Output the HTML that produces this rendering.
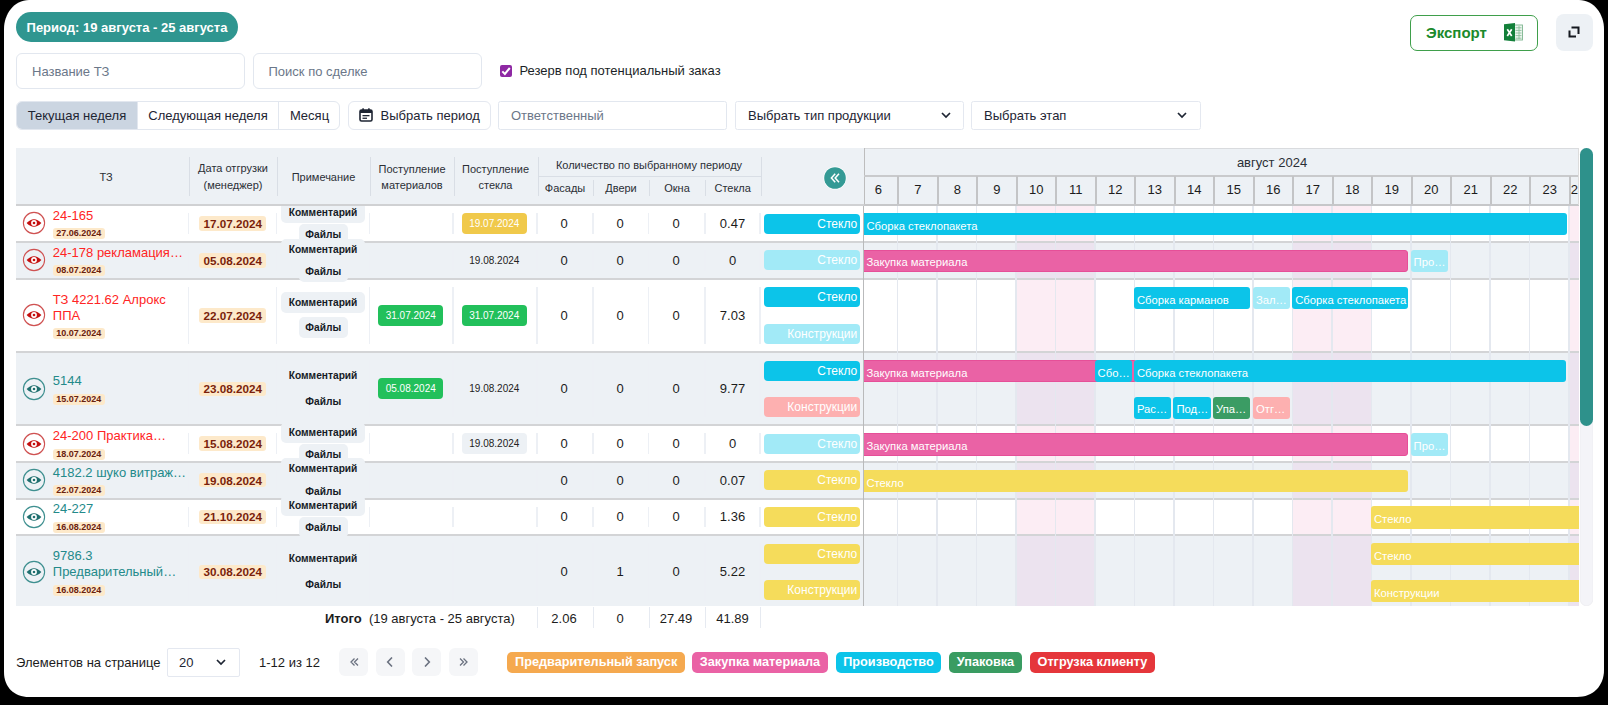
<!DOCTYPE html><html><head><meta charset="utf-8"><title>Gantt</title><style>
*{box-sizing:border-box;margin:0;padding:0}
html,body{width:1608px;height:705px;overflow:hidden;background:#000;font-family:"Liberation Sans",sans-serif;color:#1f2937}
#frame{position:absolute;left:0;top:0;width:1608px;height:705px}
.ab{position:absolute}
.c{display:flex;align-items:center;justify-content:center;white-space:nowrap}
.l{display:flex;align-items:center;white-space:nowrap}
.pill{left:16px;top:12px;width:222px;height:30px;border-radius:15px;background:#2f9690;color:#fff;font-weight:bold;font-size:13px}
.inp{border:1px solid #e2e7ef;border-radius:6px;background:#fff;font-size:13px;color:#6b7789;padding-left:15px}
.sel{border:1px solid #e4e8f0;border-radius:2.5px;background:#fff;font-size:13px;color:#1e2533;padding-left:12px}
.hdr{background:#edf1f5}
.ht{font-size:11px;color:#2b2f36;text-align:center;line-height:17px;white-space:nowrap}
.vd{width:1px;background:#d9dee5}
.rowbg{left:16px;width:1563px}
.rb{left:16px;width:1563px;height:2px;background:#d3d4d6}
.title{font-size:13px;line-height:15.5px;white-space:nowrap}
.sbadge{background:#fde9ca;color:#6a200e;font-weight:bold;font-size:9px;border-radius:3px;height:11px;line-height:11px;padding:0 3.5px}
.dbadge{background:#fde9ca;color:#7a1f0c;font-weight:bold;font-size:11.7px;border-radius:3px;height:14.4px;width:66.6px}
.btn{background:#edf1f5;color:#161b26;font-weight:bold;font-size:10.2px;border-radius:5px;height:21px}
.gbadge{background:#22c05b;color:#fff;font-size:10px;border-radius:4px;height:21px;width:65px}
.num{font-size:13px;color:#1c1c1c}
.lab{height:20px;width:96px;border-radius:4px;color:#fff;font-size:12px;justify-content:flex-end;padding-right:2.8px}
.bar{height:22.4px;border-radius:3px;color:#fff;font-size:11.25px;padding-left:3px;padding-top:3.4px;overflow:hidden}
.vg{width:1.3px;background:#e4e8ef}
.lg{height:21.5px;border-radius:5px;color:#fff;font-weight:bold;font-size:12.7px}
.pg{width:29px;height:29px;border-radius:6px;background:#f5f6f8;color:#8a94a3;font-size:15px}
</style></head><body><svg id="frame" width="1608" height="705" viewBox="0 0 1608 705"><path d="M29 0 H1579 C1594 0 1604 14 1604 29 V670 C1604 686 1593 697 1577 697 H29 C14 697 4 687 4 672 V29 C4 14 14 0 29 0 Z" fill="#fff"/></svg>
<div class="ab c pill">Период: 19 августа - 25 августа</div>
<div class="ab l" style="left:1410px;top:14.6px;width:128px;height:36px;border:1.5px solid #3f9f4b;border-radius:7px;color:#1b8a2c;font-weight:bold;font-size:15px;padding-left:15px">Экспорт</div>
<svg class="ab" style="left:1503px;top:22px" width="21" height="21" viewBox="0 0 21 21">
<rect x="11.5" y="3" width="8" height="15" fill="#eef6f0" stroke="#7db58f" stroke-width="0.9"/>
<g stroke="#8cc09c" stroke-width="0.9"><line x1="12.5" y1="5.8" x2="18.5" y2="5.8"/><line x1="12.5" y1="8.4" x2="18.5" y2="8.4"/><line x1="12.5" y1="11" x2="18.5" y2="11"/><line x1="12.5" y1="13.6" x2="18.5" y2="13.6"/><line x1="12.5" y1="16.2" x2="18.5" y2="16.2"/><line x1="16" y1="4" x2="16" y2="17"/></g>
<path d="M1 2.3 L12 1 V19.6 L1 18.2 Z" fill="#13803a"/>
<path d="M4.3 7.3 L8.7 14 M8.7 7.3 L4.3 14" stroke="#fff" stroke-width="1.7" fill="none"/>
</svg>
<div class="ab" style="left:1556px;top:14px;width:37px;height:37px;background:#edf1f5;border-radius:8px"></div>
<svg class="ab" style="left:1567px;top:25px" width="15" height="15" viewBox="0 0 15 15"><g fill="none" stroke="#15181f" stroke-width="2" stroke-linecap="square"><path d="M5.5 2.5 H11.5 V8"/><path d="M2.5 6.5 V11.5 H8"/></g></svg>
<div class="ab l inp" style="left:16px;top:53px;width:229px;height:36px;">Название ТЗ</div>
<div class="ab l inp" style="left:252.5px;top:53px;width:229px;height:36px;">Поиск по сделке</div>
<svg class="ab" style="left:500px;top:64.8px" width="12" height="12" viewBox="0 0 12 12"><rect x="0" y="0" width="12" height="12" rx="2" fill="#8e28a3"/><path d="M2.3 6.4 L4.9 9 L9.8 3" fill="none" stroke="#fff" stroke-width="2"/></svg>
<div class="ab l" style="left:519.5px;top:61.3px;height:18px;font-size:13px;color:#1b1f27">Резерв под потенциальный заказ</div>
<div class="ab" style="left:16px;top:101px;width:324px;height:28.5px;border:1px solid #e2e7ef;border-radius:6px;overflow:hidden;background:#fff"><div class="ab c" style="left:0;top:0;width:120px;height:100%;background:#cbd5e1;font-size:13px;color:#1e2533">Текущая неделя</div><div class="ab c" style="left:120px;top:0;width:141px;height:100%;border-left:1px solid #e2e7ef;font-size:13px;color:#1e2533">Следующая неделя</div><div class="ab c" style="left:261px;top:0;width:62px;height:100%;border-left:1px solid #e2e7ef;font-size:13px;color:#1e2533">Месяц</div></div>
<div class="ab l sel" style="left:347.5px;top:101px;width:143px;height:28.5px;border-radius:6px;padding-left:32px">Выбрать период</div>
<svg class="ab" style="left:359px;top:108px" width="14" height="14" viewBox="0 0 14 14"><rect x="1" y="2" width="12" height="11" rx="1.5" fill="none" stroke="#1e2533" stroke-width="1.6"/><rect x="1" y="2" width="12" height="3" fill="#1e2533"/><rect x="3.3" y="0.3" width="1.6" height="2.5" fill="#1e2533"/><rect x="9.1" y="0.3" width="1.6" height="2.5" fill="#1e2533"/><rect x="3.5" y="7" width="7" height="1.3" fill="#1e2533"/><rect x="3.5" y="9.6" width="4.5" height="1.3" fill="#1e2533"/></svg>
<div class="ab l inp" style="left:498px;top:101px;width:229px;height:28.5px;border-radius:2.5px;padding-left:12px">Ответственный</div>
<div class="ab l sel" style="left:735px;top:101px;width:228.5px;height:28.5px;">Выбрать тип продукции</div>
<svg class="ab" style="left:940.5px;top:111px" width="10" height="8" viewBox="0 0 10 8"><path d="M1 2 L5 6 L9 2" fill="none" stroke="#1e2533" stroke-width="1.7"/></svg>
<div class="ab l sel" style="left:971px;top:101px;width:229.5px;height:28.5px;">Выбрать этап</div>
<svg class="ab" style="left:1177px;top:111px" width="10" height="8" viewBox="0 0 10 8"><path d="M1 2 L5 6 L9 2" fill="none" stroke="#1e2533" stroke-width="1.7"/></svg>
<div class="ab" style="left:0;top:0;width:0;height:0;z-index:5">
<div class="ab hdr" style="left:16px;top:148px;width:848px;height:57px;"></div>
<div class="ab " style="left:16px;top:204px;width:848px;height:2px;background:#d0d1d3"></div>
<div class="ab ht" style="left:46.0px;top:168.5px;width:120px">ТЗ</div>
<div class="ab ht" style="left:173.0px;top:160.0px;width:120px">Дата отгрузки</div>
<div class="ab ht" style="left:173.0px;top:177.0px;width:120px">(менеджер)</div>
<div class="ab ht" style="left:263.5px;top:168.5px;width:120px">Примечание</div>
<div class="ab ht" style="left:352.0px;top:160.5px;width:120px">Поступление</div>
<div class="ab ht" style="left:352.0px;top:176.5px;width:120px">материалов</div>
<div class="ab ht" style="left:435.5px;top:160.5px;width:120px">Поступление</div>
<div class="ab ht" style="left:435.5px;top:176.5px;width:120px">стекла</div>
<div class="ab ht" style="left:539.0px;top:157.1px;width:220px">Количество по выбранному периоду</div>
<div class="ab ht" style="left:538.0px;top:179.8px;width:54px">Фасады</div>
<div class="ab ht" style="left:594.0px;top:179.8px;width:54px">Двери</div>
<div class="ab ht" style="left:650.0px;top:179.8px;width:54px">Окна</div>
<div class="ab ht" style="left:705.7px;top:179.8px;width:54px">Стекла</div>
<div class="ab vd" style="left:189px;top:156.5px;width:1px;height:39.5px;"></div>
<div class="ab vd" style="left:277px;top:156.5px;width:1px;height:39.5px;"></div>
<div class="ab vd" style="left:370px;top:156.5px;width:1px;height:39.5px;"></div>
<div class="ab vd" style="left:453.7px;top:156.5px;width:1px;height:39.5px;"></div>
<div class="ab vd" style="left:537.5px;top:156.5px;width:1px;height:39.5px;"></div>
<div class="ab vd" style="left:760.6px;top:156.5px;width:1px;height:39.5px;"></div>
<div class="ab vd" style="left:593.4px;top:179.5px;width:1px;height:16.5px;"></div>
<div class="ab vd" style="left:649px;top:179.5px;width:1px;height:16.5px;"></div>
<div class="ab vd" style="left:705.4px;top:179.5px;width:1px;height:16.5px;"></div>
<div class="ab " style="left:537.5px;top:176px;width:223px;height:1px;background:#d9dee5"></div>
<svg class="ab" style="left:822.5px;top:166px" width="24" height="24" viewBox="0 0 24 24"><circle cx="12" cy="12" r="11.5" fill="#fff"/><circle cx="12" cy="12" r="10.8" fill="#349a95"/><path d="M12.2 7.8 L8.4 12 L12.2 16.2 M16 7.8 L12.2 12 L16 16.2" fill="none" stroke="#fff" stroke-width="1.5"/></svg>
<div class="ab hdr" style="left:864px;top:148px;width:714.5999999999999px;height:57px;border-top:1.6px solid #d9dbde"></div>
<div class="ab " style="left:863.5px;top:148px;width:1.2px;height:57px;background:#bdbdbd"></div>
<div class="ab c" style="left:1172px;top:153px;width:200px;height:18px;font-size:13px;color:#2b2f36">август 2024</div>
<div class="ab " style="left:864px;top:175px;width:714.5999999999999px;height:2px;background:#c9cacc"></div>
<div class="ab " style="left:864px;top:204px;width:714.5999999999999px;height:2px;background:#c6c7c9"></div>
<div class="ab" style="left:864px;top:148px;width:714.5999999999999px;height:57px;overflow:hidden">
<div class="ab c" style="left:-5.5px;top:27.5px;width:39.5px;height:28px;font-size:13px;color:#1c1c1c">6</div>
<div class="ab c" style="left:34.0px;top:27.5px;width:39.5px;height:28px;font-size:13px;color:#1c1c1c">7</div>
<div class="ab" style="left:33.0px;top:28px;width:2px;height:28px;background:#c3c4c6"></div>
<div class="ab c" style="left:73.5px;top:27.5px;width:39.5px;height:28px;font-size:13px;color:#1c1c1c">8</div>
<div class="ab" style="left:72.5px;top:28px;width:2px;height:28px;background:#c3c4c6"></div>
<div class="ab c" style="left:113.0px;top:27.5px;width:39.5px;height:28px;font-size:13px;color:#1c1c1c">9</div>
<div class="ab" style="left:112.0px;top:28px;width:2px;height:28px;background:#c3c4c6"></div>
<div class="ab c" style="left:152.5px;top:27.5px;width:39.5px;height:28px;font-size:13px;color:#1c1c1c">10</div>
<div class="ab" style="left:151.5px;top:28px;width:2px;height:28px;background:#c3c4c6"></div>
<div class="ab c" style="left:192.0px;top:27.5px;width:39.5px;height:28px;font-size:13px;color:#1c1c1c">11</div>
<div class="ab" style="left:191.0px;top:28px;width:2px;height:28px;background:#c3c4c6"></div>
<div class="ab c" style="left:231.5px;top:27.5px;width:39.5px;height:28px;font-size:13px;color:#1c1c1c">12</div>
<div class="ab" style="left:230.5px;top:28px;width:2px;height:28px;background:#c3c4c6"></div>
<div class="ab c" style="left:271.0px;top:27.5px;width:39.5px;height:28px;font-size:13px;color:#1c1c1c">13</div>
<div class="ab" style="left:270.0px;top:28px;width:2px;height:28px;background:#c3c4c6"></div>
<div class="ab c" style="left:310.5px;top:27.5px;width:39.5px;height:28px;font-size:13px;color:#1c1c1c">14</div>
<div class="ab" style="left:309.5px;top:28px;width:2px;height:28px;background:#c3c4c6"></div>
<div class="ab c" style="left:350.0px;top:27.5px;width:39.5px;height:28px;font-size:13px;color:#1c1c1c">15</div>
<div class="ab" style="left:349.0px;top:28px;width:2px;height:28px;background:#c3c4c6"></div>
<div class="ab c" style="left:389.5px;top:27.5px;width:39.5px;height:28px;font-size:13px;color:#1c1c1c">16</div>
<div class="ab" style="left:388.5px;top:28px;width:2px;height:28px;background:#c3c4c6"></div>
<div class="ab c" style="left:429.0px;top:27.5px;width:39.5px;height:28px;font-size:13px;color:#1c1c1c">17</div>
<div class="ab" style="left:428.0px;top:28px;width:2px;height:28px;background:#c3c4c6"></div>
<div class="ab c" style="left:468.5px;top:27.5px;width:39.5px;height:28px;font-size:13px;color:#1c1c1c">18</div>
<div class="ab" style="left:467.5px;top:28px;width:2px;height:28px;background:#c3c4c6"></div>
<div class="ab c" style="left:508.0px;top:27.5px;width:39.5px;height:28px;font-size:13px;color:#1c1c1c">19</div>
<div class="ab" style="left:507.0px;top:28px;width:2px;height:28px;background:#c3c4c6"></div>
<div class="ab c" style="left:547.5px;top:27.5px;width:39.5px;height:28px;font-size:13px;color:#1c1c1c">20</div>
<div class="ab" style="left:546.5px;top:28px;width:2px;height:28px;background:#c3c4c6"></div>
<div class="ab c" style="left:587.0px;top:27.5px;width:39.5px;height:28px;font-size:13px;color:#1c1c1c">21</div>
<div class="ab" style="left:586.0px;top:28px;width:2px;height:28px;background:#c3c4c6"></div>
<div class="ab c" style="left:626.5px;top:27.5px;width:39.5px;height:28px;font-size:13px;color:#1c1c1c">22</div>
<div class="ab" style="left:625.5px;top:28px;width:2px;height:28px;background:#c3c4c6"></div>
<div class="ab c" style="left:666.0px;top:27.5px;width:39.5px;height:28px;font-size:13px;color:#1c1c1c">23</div>
<div class="ab" style="left:665.0px;top:28px;width:2px;height:28px;background:#c3c4c6"></div>
<div class="ab" style="left:704.5px;top:28px;width:2px;height:28px;background:#c3c4c6"></div>
<div class="ab l" style="left:706.8px;top:27.5px;width:39.5px;height:28px;font-size:13px;color:#1c1c1c">24</div>
<div class="ab" style="left:713.5999999999999px;top:0;width:1px;height:57px;background:#dcdcdc"></div>
</div>
</div>
<div class="ab " style="left:16px;top:206px;width:1563px;height:34.80000000000001px;background:#ffffff"></div>
<div class="ab " style="left:16px;top:240.8px;width:1563px;height:2px;background:#d3d4d6"></div>
<div class="ab " style="left:16px;top:242.8px;width:1563px;height:35.099999999999966px;background:#edf1f5"></div>
<div class="ab " style="left:16px;top:277.9px;width:1563px;height:2px;background:#d3d4d6"></div>
<div class="ab " style="left:16px;top:279.9px;width:1563px;height:71.15000000000003px;background:#ffffff"></div>
<div class="ab " style="left:16px;top:351.05px;width:1563px;height:2px;background:#d3d4d6"></div>
<div class="ab " style="left:16px;top:353.05px;width:1563px;height:71.30000000000001px;background:#edf1f5"></div>
<div class="ab " style="left:16px;top:424.35px;width:1563px;height:2px;background:#d3d4d6"></div>
<div class="ab " style="left:16px;top:426.35px;width:1563px;height:34.549999999999955px;background:#ffffff"></div>
<div class="ab " style="left:16px;top:460.9px;width:1563px;height:2px;background:#d3d4d6"></div>
<div class="ab " style="left:16px;top:462.9px;width:1563px;height:34.700000000000045px;background:#edf1f5"></div>
<div class="ab " style="left:16px;top:497.6px;width:1563px;height:2px;background:#d3d4d6"></div>
<div class="ab " style="left:16px;top:499.6px;width:1563px;height:34.60000000000002px;background:#ffffff"></div>
<div class="ab " style="left:16px;top:534.2px;width:1563px;height:2px;background:#d3d4d6"></div>
<div class="ab " style="left:16px;top:536.2px;width:1563px;height:69.79999999999995px;background:#edf1f5"></div>
<div class="ab" style="left:864px;top:206px;width:714.5999999999999px;height:400px;overflow:hidden">
<div class="ab" style="left:152.5px;top:0px;width:39.5px;height:34.80000000000001px;background:#fcedf4"></div>
<div class="ab" style="left:192.0px;top:0px;width:39.5px;height:34.80000000000001px;background:#fcedf4"></div>
<div class="ab" style="left:429.0px;top:0px;width:39.5px;height:34.80000000000001px;background:#fcedf4"></div>
<div class="ab" style="left:468.5px;top:0px;width:39.5px;height:34.80000000000001px;background:#fcedf4"></div>
<div class="ab" style="left:705.5px;top:0px;width:39.5px;height:34.80000000000001px;background:#fcedf4"></div>
<div class="ab" style="left:152.5px;top:36.80000000000001px;width:39.5px;height:35.099999999999966px;background:#ece3ef"></div>
<div class="ab" style="left:192.0px;top:36.80000000000001px;width:39.5px;height:35.099999999999966px;background:#ece3ef"></div>
<div class="ab" style="left:429.0px;top:36.80000000000001px;width:39.5px;height:35.099999999999966px;background:#ece3ef"></div>
<div class="ab" style="left:468.5px;top:36.80000000000001px;width:39.5px;height:35.099999999999966px;background:#ece3ef"></div>
<div class="ab" style="left:705.5px;top:36.80000000000001px;width:39.5px;height:35.099999999999966px;background:#ece3ef"></div>
<div class="ab" style="left:152.5px;top:73.89999999999998px;width:39.5px;height:71.15000000000003px;background:#fcedf4"></div>
<div class="ab" style="left:192.0px;top:73.89999999999998px;width:39.5px;height:71.15000000000003px;background:#fcedf4"></div>
<div class="ab" style="left:429.0px;top:73.89999999999998px;width:39.5px;height:71.15000000000003px;background:#fcedf4"></div>
<div class="ab" style="left:468.5px;top:73.89999999999998px;width:39.5px;height:71.15000000000003px;background:#fcedf4"></div>
<div class="ab" style="left:705.5px;top:73.89999999999998px;width:39.5px;height:71.15000000000003px;background:#fcedf4"></div>
<div class="ab" style="left:152.5px;top:147.05px;width:39.5px;height:71.30000000000001px;background:#ece3ef"></div>
<div class="ab" style="left:192.0px;top:147.05px;width:39.5px;height:71.30000000000001px;background:#ece3ef"></div>
<div class="ab" style="left:429.0px;top:147.05px;width:39.5px;height:71.30000000000001px;background:#ece3ef"></div>
<div class="ab" style="left:468.5px;top:147.05px;width:39.5px;height:71.30000000000001px;background:#ece3ef"></div>
<div class="ab" style="left:705.5px;top:147.05px;width:39.5px;height:71.30000000000001px;background:#ece3ef"></div>
<div class="ab" style="left:152.5px;top:220.35000000000002px;width:39.5px;height:34.549999999999955px;background:#fcedf4"></div>
<div class="ab" style="left:192.0px;top:220.35000000000002px;width:39.5px;height:34.549999999999955px;background:#fcedf4"></div>
<div class="ab" style="left:429.0px;top:220.35000000000002px;width:39.5px;height:34.549999999999955px;background:#fcedf4"></div>
<div class="ab" style="left:468.5px;top:220.35000000000002px;width:39.5px;height:34.549999999999955px;background:#fcedf4"></div>
<div class="ab" style="left:705.5px;top:220.35000000000002px;width:39.5px;height:34.549999999999955px;background:#fcedf4"></div>
<div class="ab" style="left:152.5px;top:256.9px;width:39.5px;height:34.700000000000045px;background:#ece3ef"></div>
<div class="ab" style="left:192.0px;top:256.9px;width:39.5px;height:34.700000000000045px;background:#ece3ef"></div>
<div class="ab" style="left:429.0px;top:256.9px;width:39.5px;height:34.700000000000045px;background:#ece3ef"></div>
<div class="ab" style="left:468.5px;top:256.9px;width:39.5px;height:34.700000000000045px;background:#ece3ef"></div>
<div class="ab" style="left:705.5px;top:256.9px;width:39.5px;height:34.700000000000045px;background:#ece3ef"></div>
<div class="ab" style="left:152.5px;top:293.6px;width:39.5px;height:34.60000000000002px;background:#fcedf4"></div>
<div class="ab" style="left:192.0px;top:293.6px;width:39.5px;height:34.60000000000002px;background:#fcedf4"></div>
<div class="ab" style="left:429.0px;top:293.6px;width:39.5px;height:34.60000000000002px;background:#fcedf4"></div>
<div class="ab" style="left:468.5px;top:293.6px;width:39.5px;height:34.60000000000002px;background:#fcedf4"></div>
<div class="ab" style="left:705.5px;top:293.6px;width:39.5px;height:34.60000000000002px;background:#fcedf4"></div>
<div class="ab" style="left:152.5px;top:330.20000000000005px;width:39.5px;height:69.79999999999995px;background:#ece3ef"></div>
<div class="ab" style="left:192.0px;top:330.20000000000005px;width:39.5px;height:69.79999999999995px;background:#ece3ef"></div>
<div class="ab" style="left:429.0px;top:330.20000000000005px;width:39.5px;height:69.79999999999995px;background:#ece3ef"></div>
<div class="ab" style="left:468.5px;top:330.20000000000005px;width:39.5px;height:69.79999999999995px;background:#ece3ef"></div>
<div class="ab" style="left:705.5px;top:330.20000000000005px;width:39.5px;height:69.79999999999995px;background:#ece3ef"></div>
<div class="ab vg" style="left:32.8px;top:0;height:400px"></div>
<div class="ab vg" style="left:72.3px;top:0;height:400px"></div>
<div class="ab vg" style="left:111.8px;top:0;height:400px"></div>
<div class="ab vg" style="left:151.3px;top:0;height:400px"></div>
<div class="ab vg" style="left:190.8px;top:0;height:400px"></div>
<div class="ab vg" style="left:230.3px;top:0;height:400px"></div>
<div class="ab vg" style="left:269.8px;top:0;height:400px"></div>
<div class="ab vg" style="left:309.3px;top:0;height:400px"></div>
<div class="ab vg" style="left:348.8px;top:0;height:400px"></div>
<div class="ab vg" style="left:388.3px;top:0;height:400px"></div>
<div class="ab vg" style="left:427.8px;top:0;height:400px"></div>
<div class="ab vg" style="left:467.3px;top:0;height:400px"></div>
<div class="ab vg" style="left:506.8px;top:0;height:400px"></div>
<div class="ab vg" style="left:546.3px;top:0;height:400px"></div>
<div class="ab vg" style="left:585.8px;top:0;height:400px"></div>
<div class="ab vg" style="left:625.3px;top:0;height:400px"></div>
<div class="ab vg" style="left:664.8px;top:0;height:400px"></div>
<div class="ab vg" style="left:704.3px;top:0;height:400px"></div>
<div class="ab vg" style="left:743.8px;top:0;height:400px"></div>
</div>
<div class="ab " style="left:863px;top:206px;width:1.2px;height:400px;background:#b9babb"></div>
<div class="ab" style="left:187.7px;top:213.0px;width:1.6px;height:20.80000000000001px;background:#edf0f5"></div>
<div class="ab" style="left:275.7px;top:213.0px;width:1.6px;height:20.80000000000001px;background:#edf0f5"></div>
<div class="ab" style="left:368.7px;top:213.0px;width:1.6px;height:20.80000000000001px;background:#edf0f5"></div>
<div class="ab" style="left:452.4px;top:213.0px;width:1.6px;height:20.80000000000001px;background:#edf0f5"></div>
<div class="ab" style="left:536.2px;top:213.0px;width:1.6px;height:20.80000000000001px;background:#edf0f5"></div>
<div class="ab" style="left:592.1px;top:213.0px;width:1.6px;height:20.80000000000001px;background:#edf0f5"></div>
<div class="ab" style="left:647.7px;top:213.0px;width:1.6px;height:20.80000000000001px;background:#edf0f5"></div>
<div class="ab" style="left:704.1px;top:213.0px;width:1.6px;height:20.80000000000001px;background:#edf0f5"></div>
<div class="ab" style="left:759.3000000000001px;top:213.0px;width:1.6px;height:20.80000000000001px;background:#edf0f5"></div>
<svg class="ab" style="left:22.200000000000003px;top:211.4px" width="24" height="24" viewBox="0 0 24 24"><circle cx="12" cy="12" r="10.6" fill="none" stroke="#cf5252" stroke-width="1.1"/><path d="M4.6 12 Q12 4.4 19.4 12 Q12 19.6 4.6 12 Z" fill="#c40f0f"/><circle cx="12" cy="12" r="2.9" fill="#fff"/><circle cx="12" cy="12" r="1.3" fill="#c40f0f"/></svg>
<div class="ab title" style="left:52.8px;top:207.8px;height:16px;line-height:16px;color:#ff2424">24-165</div>
<div class="ab sbadge" style="left:52.8px;top:228.3px">27.06.2024</div>
<div class="ab c dbadge" style="left:199.4px;top:216.20000000000002px">17.07.2024</div>
<div class="ab c btn" style="left:281.2px;top:201.55px;width:83.8px">Комментарий</div>
<div class="ab c btn" style="left:298.7px;top:223.75px;width:49.1px">Файлы</div>
<div class="ab c gbadge" style="left:461.90000000000003px;top:212.8px;background:#f0c94b;width:64.7px">19.07.2024</div>
<div class="ab c num" style="left:539px;top:214.4px;width:50px;height:18px">0</div>
<div class="ab c num" style="left:595px;top:214.4px;width:50px;height:18px">0</div>
<div class="ab c num" style="left:651px;top:214.4px;width:50px;height:18px">0</div>
<div class="ab c num" style="left:707.5px;top:214.4px;width:50px;height:18px">0.47</div>
<div class="ab l lab" style="left:764px;top:213.5px;background:#0cc4e9">Стекло</div>
<div class="ab" style="left:863.8px;top:140px;width:714.8px;height:466px;overflow:hidden">
<div class="ab l bar" style="left:-13.8px;top:72.8px;width:716.5px;background:#0cc4e9;padding-left:16.400000000000002px;border-radius:0 3px 3px 0;">Сборка стеклопакета</div>
</div>
<div class="ab" style="left:187.7px;top:249.80000000000004px;width:1.6px;height:21.099999999999966px;background:#edf0f5"></div>
<div class="ab" style="left:275.7px;top:249.80000000000004px;width:1.6px;height:21.099999999999966px;background:#edf0f5"></div>
<div class="ab" style="left:368.7px;top:249.80000000000004px;width:1.6px;height:21.099999999999966px;background:#edf0f5"></div>
<div class="ab" style="left:452.4px;top:249.80000000000004px;width:1.6px;height:21.099999999999966px;background:#edf0f5"></div>
<div class="ab" style="left:536.2px;top:249.80000000000004px;width:1.6px;height:21.099999999999966px;background:#edf0f5"></div>
<div class="ab" style="left:592.1px;top:249.80000000000004px;width:1.6px;height:21.099999999999966px;background:#edf0f5"></div>
<div class="ab" style="left:647.7px;top:249.80000000000004px;width:1.6px;height:21.099999999999966px;background:#edf0f5"></div>
<div class="ab" style="left:704.1px;top:249.80000000000004px;width:1.6px;height:21.099999999999966px;background:#edf0f5"></div>
<div class="ab" style="left:759.3000000000001px;top:249.80000000000004px;width:1.6px;height:21.099999999999966px;background:#edf0f5"></div>
<svg class="ab" style="left:22.200000000000003px;top:248.35000000000002px" width="24" height="24" viewBox="0 0 24 24"><circle cx="12" cy="12" r="10.6" fill="none" stroke="#cf5252" stroke-width="1.1"/><path d="M4.6 12 Q12 4.4 19.4 12 Q12 19.6 4.6 12 Z" fill="#c40f0f"/><circle cx="12" cy="12" r="2.9" fill="#fff"/><circle cx="12" cy="12" r="1.3" fill="#c40f0f"/></svg>
<div class="ab title" style="left:52.8px;top:244.75000000000003px;height:16px;line-height:16px;color:#ff2424">24-178 рекламация…</div>
<div class="ab sbadge" style="left:52.8px;top:265.25px">08.07.2024</div>
<div class="ab c dbadge" style="left:199.4px;top:253.15000000000003px">05.08.2024</div>
<div class="ab c btn" style="left:281.2px;top:238.50000000000003px;width:83.8px">Комментарий</div>
<div class="ab c btn" style="left:298.7px;top:260.70000000000005px;width:49.1px">Файлы</div>
<div class="ab c gbadge" style="left:462.0px;top:249.75000000000003px;background:#edf1f5;color:#222;width:64.6px">19.08.2024</div>
<div class="ab c num" style="left:539px;top:251.35000000000002px;width:50px;height:18px">0</div>
<div class="ab c num" style="left:595px;top:251.35000000000002px;width:50px;height:18px">0</div>
<div class="ab c num" style="left:651px;top:251.35000000000002px;width:50px;height:18px">0</div>
<div class="ab c num" style="left:707.5px;top:251.35000000000002px;width:50px;height:18px">0</div>
<div class="ab l lab" style="left:764px;top:250.3px;background:#a2eaf7">Стекло</div>
<div class="ab" style="left:863.8px;top:140px;width:714.8px;height:466px;overflow:hidden">
<div class="ab l bar" style="left:-13.8px;top:109.60000000000001px;width:558.4000000000001px;background:#ea62a5;border:1px solid #e64f98;padding-left:2px;padding-left:15.400000000000002px;border-radius:0 3px 3px 0;">Закупка материала</div>
<div class="ab l bar" style="left:546.8px;top:109.60000000000001px;width:37.5px;background:#a2eaf7;">Про…</div>
</div>
<div class="ab" style="left:187.7px;top:286.9px;width:1.6px;height:57.150000000000034px;background:#edf0f5"></div>
<div class="ab" style="left:275.7px;top:286.9px;width:1.6px;height:57.150000000000034px;background:#edf0f5"></div>
<div class="ab" style="left:368.7px;top:286.9px;width:1.6px;height:57.150000000000034px;background:#edf0f5"></div>
<div class="ab" style="left:452.4px;top:286.9px;width:1.6px;height:57.150000000000034px;background:#edf0f5"></div>
<div class="ab" style="left:536.2px;top:286.9px;width:1.6px;height:57.150000000000034px;background:#edf0f5"></div>
<div class="ab" style="left:592.1px;top:286.9px;width:1.6px;height:57.150000000000034px;background:#edf0f5"></div>
<div class="ab" style="left:647.7px;top:286.9px;width:1.6px;height:57.150000000000034px;background:#edf0f5"></div>
<div class="ab" style="left:704.1px;top:286.9px;width:1.6px;height:57.150000000000034px;background:#edf0f5"></div>
<div class="ab" style="left:759.3000000000001px;top:286.9px;width:1.6px;height:57.150000000000034px;background:#edf0f5"></div>
<svg class="ab" style="left:22.200000000000003px;top:303.475px" width="24" height="24" viewBox="0 0 24 24"><circle cx="12" cy="12" r="10.6" fill="none" stroke="#cf5252" stroke-width="1.1"/><path d="M4.6 12 Q12 4.4 19.4 12 Q12 19.6 4.6 12 Z" fill="#c40f0f"/><circle cx="12" cy="12" r="2.9" fill="#fff"/><circle cx="12" cy="12" r="1.3" fill="#c40f0f"/></svg>
<div class="ab title" style="left:52.8px;top:291.875px;height:16px;line-height:16px;color:#ff2424">ТЗ 4221.62 Алрокс</div>
<div class="ab title" style="left:52.8px;top:307.875px;height:16px;line-height:16px;color:#ff2424">ППА</div>
<div class="ab sbadge" style="left:52.8px;top:328.375px">10.07.2024</div>
<div class="ab c dbadge" style="left:199.4px;top:308.27500000000003px">22.07.2024</div>
<div class="ab c btn" style="left:281.2px;top:291.975px;width:83.8px">Комментарий</div>
<div class="ab c btn" style="left:298.7px;top:317.475px;width:49.1px">Файлы</div>
<div class="ab c gbadge" style="left:378.25px;top:304.975px">31.07.2024</div>
<div class="ab c gbadge" style="left:461.7px;top:304.975px">31.07.2024</div>
<div class="ab c num" style="left:539px;top:306.475px;width:50px;height:18px">0</div>
<div class="ab c num" style="left:595px;top:306.475px;width:50px;height:18px">0</div>
<div class="ab c num" style="left:651px;top:306.475px;width:50px;height:18px">0</div>
<div class="ab c num" style="left:707.5px;top:306.475px;width:50px;height:18px">7.03</div>
<div class="ab l lab" style="left:764px;top:287.4px;background:#0cc4e9">Стекло</div>
<div class="ab l lab" style="left:764px;top:324.07px;background:#a2eaf7">Конструкции</div>
<div class="ab" style="left:863.8px;top:140px;width:714.8px;height:466px;overflow:hidden">
<div class="ab l bar" style="left:270.2px;top:146.7px;width:116.20000000000005px;background:#0cc4e9;">Сборка карманов</div>
<div class="ab l bar" style="left:389.2px;top:146.7px;width:36.59999999999991px;background:#a2eaf7;">Зал…</div>
<div class="ab l bar" style="left:428.40000000000003px;top:146.7px;width:116.2000000000001px;background:#0cc4e9;">Сборка стеклопакета</div>
</div>
<div class="ab" style="left:187.7px;top:360.05000000000007px;width:1.6px;height:57.30000000000001px;background:#edf0f5"></div>
<div class="ab" style="left:275.7px;top:360.05000000000007px;width:1.6px;height:57.30000000000001px;background:#edf0f5"></div>
<div class="ab" style="left:368.7px;top:360.05000000000007px;width:1.6px;height:57.30000000000001px;background:#edf0f5"></div>
<div class="ab" style="left:452.4px;top:360.05000000000007px;width:1.6px;height:57.30000000000001px;background:#edf0f5"></div>
<div class="ab" style="left:536.2px;top:360.05000000000007px;width:1.6px;height:57.30000000000001px;background:#edf0f5"></div>
<div class="ab" style="left:592.1px;top:360.05000000000007px;width:1.6px;height:57.30000000000001px;background:#edf0f5"></div>
<div class="ab" style="left:647.7px;top:360.05000000000007px;width:1.6px;height:57.30000000000001px;background:#edf0f5"></div>
<div class="ab" style="left:704.1px;top:360.05000000000007px;width:1.6px;height:57.30000000000001px;background:#edf0f5"></div>
<div class="ab" style="left:759.3000000000001px;top:360.05000000000007px;width:1.6px;height:57.30000000000001px;background:#edf0f5"></div>
<svg class="ab" style="left:22.200000000000003px;top:376.70000000000005px" width="24" height="24" viewBox="0 0 24 24"><circle cx="12" cy="12" r="10.6" fill="none" stroke="#3f9090" stroke-width="1.1"/><path d="M4.6 12 Q12 4.4 19.4 12 Q12 19.6 4.6 12 Z" fill="#1f6f6f"/><circle cx="12" cy="12" r="2.9" fill="#fff"/><circle cx="12" cy="12" r="1.3" fill="#1f6f6f"/></svg>
<div class="ab title" style="left:52.8px;top:373.1px;height:16px;line-height:16px;color:#238a8a">5144</div>
<div class="ab sbadge" style="left:52.8px;top:393.6px">15.07.2024</div>
<div class="ab c dbadge" style="left:199.4px;top:381.50000000000006px">23.08.2024</div>
<div class="ab c btn" style="left:281.2px;top:365.20000000000005px;width:83.8px">Комментарий</div>
<div class="ab c btn" style="left:298.7px;top:390.70000000000005px;width:49.1px">Файлы</div>
<div class="ab c gbadge" style="left:378.25px;top:378.20000000000005px">05.08.2024</div>
<div class="ab c" style="left:454.3px;top:378.20000000000005px;width:80px;height:21px;font-size:10px;color:#222">19.08.2024</div>
<div class="ab c num" style="left:539px;top:379.70000000000005px;width:50px;height:18px">0</div>
<div class="ab c num" style="left:595px;top:379.70000000000005px;width:50px;height:18px">0</div>
<div class="ab c num" style="left:651px;top:379.70000000000005px;width:50px;height:18px">0</div>
<div class="ab c num" style="left:707.5px;top:379.70000000000005px;width:50px;height:18px">9.77</div>
<div class="ab l lab" style="left:764px;top:360.55px;background:#0cc4e9">Стекло</div>
<div class="ab l lab" style="left:764px;top:397.22px;background:#fdb0b0">Конструкции</div>
<div class="ab" style="left:863.8px;top:140px;width:714.8px;height:466px;overflow:hidden">
<div class="ab l bar" style="left:-13.8px;top:219.85000000000002px;width:287.0px;background:#ea62a5;border:1px solid #e64f98;padding-left:2px;padding-left:15.400000000000002px;border-radius:0 3px 3px 0;">Закупка материала</div>
<div class="ab l bar" style="left:230.7999999999999px;top:219.85000000000002px;width:37.40000000000009px;background:#0cc4e9;">Сбо…</div>
<div class="ab l bar" style="left:270.2px;top:219.85000000000002px;width:432.50000000000006px;background:#0cc4e9;">Сборка стеклопакета</div>
<div class="ab l bar" style="left:270.2px;top:256.52000000000004px;width:37.40000000000009px;background:#0cc4e9;">Рас…</div>
<div class="ab l bar" style="left:309.6000000000001px;top:256.52000000000004px;width:37.399999999999864px;background:#0cc4e9;">Под…</div>
<div class="ab l bar" style="left:349.2px;top:256.52000000000004px;width:37.200000000000045px;background:#3b9c64;">Упа…</div>
<div class="ab l bar" style="left:389.2px;top:256.52000000000004px;width:36.59999999999991px;background:#fdb0b0;">Отг…</div>
</div>
<div class="ab" style="left:187.7px;top:433.35px;width:1.6px;height:20.549999999999955px;background:#edf0f5"></div>
<div class="ab" style="left:275.7px;top:433.35px;width:1.6px;height:20.549999999999955px;background:#edf0f5"></div>
<div class="ab" style="left:368.7px;top:433.35px;width:1.6px;height:20.549999999999955px;background:#edf0f5"></div>
<div class="ab" style="left:452.4px;top:433.35px;width:1.6px;height:20.549999999999955px;background:#edf0f5"></div>
<div class="ab" style="left:536.2px;top:433.35px;width:1.6px;height:20.549999999999955px;background:#edf0f5"></div>
<div class="ab" style="left:592.1px;top:433.35px;width:1.6px;height:20.549999999999955px;background:#edf0f5"></div>
<div class="ab" style="left:647.7px;top:433.35px;width:1.6px;height:20.549999999999955px;background:#edf0f5"></div>
<div class="ab" style="left:704.1px;top:433.35px;width:1.6px;height:20.549999999999955px;background:#edf0f5"></div>
<div class="ab" style="left:759.3000000000001px;top:433.35px;width:1.6px;height:20.549999999999955px;background:#edf0f5"></div>
<svg class="ab" style="left:22.200000000000003px;top:431.625px" width="24" height="24" viewBox="0 0 24 24"><circle cx="12" cy="12" r="10.6" fill="none" stroke="#cf5252" stroke-width="1.1"/><path d="M4.6 12 Q12 4.4 19.4 12 Q12 19.6 4.6 12 Z" fill="#c40f0f"/><circle cx="12" cy="12" r="2.9" fill="#fff"/><circle cx="12" cy="12" r="1.3" fill="#c40f0f"/></svg>
<div class="ab title" style="left:52.8px;top:428.025px;height:16px;line-height:16px;color:#ff2424">24-200 Практика…</div>
<div class="ab sbadge" style="left:52.8px;top:448.525px">18.07.2024</div>
<div class="ab c dbadge" style="left:199.4px;top:436.425px">15.08.2024</div>
<div class="ab c btn" style="left:281.2px;top:421.775px;width:83.8px">Комментарий</div>
<div class="ab c btn" style="left:298.7px;top:443.975px;width:49.1px">Файлы</div>
<div class="ab c gbadge" style="left:462.0px;top:433.025px;background:#edf1f5;color:#222;width:64.6px">19.08.2024</div>
<div class="ab c num" style="left:539px;top:434.625px;width:50px;height:18px">0</div>
<div class="ab c num" style="left:595px;top:434.625px;width:50px;height:18px">0</div>
<div class="ab c num" style="left:651px;top:434.625px;width:50px;height:18px">0</div>
<div class="ab c num" style="left:707.5px;top:434.625px;width:50px;height:18px">0</div>
<div class="ab l lab" style="left:764px;top:433.85px;background:#a2eaf7">Стекло</div>
<div class="ab" style="left:863.8px;top:140px;width:714.8px;height:466px;overflow:hidden">
<div class="ab l bar" style="left:-13.8px;top:293.15000000000003px;width:558.4000000000001px;background:#ea62a5;border:1px solid #e64f98;padding-left:2px;padding-left:15.400000000000002px;border-radius:0 3px 3px 0;">Закупка материала</div>
<div class="ab l bar" style="left:546.8px;top:293.15000000000003px;width:37.5px;background:#a2eaf7;">Про…</div>
</div>
<div class="ab" style="left:187.7px;top:469.9px;width:1.6px;height:20.700000000000045px;background:#edf0f5"></div>
<div class="ab" style="left:275.7px;top:469.9px;width:1.6px;height:20.700000000000045px;background:#edf0f5"></div>
<div class="ab" style="left:368.7px;top:469.9px;width:1.6px;height:20.700000000000045px;background:#edf0f5"></div>
<div class="ab" style="left:452.4px;top:469.9px;width:1.6px;height:20.700000000000045px;background:#edf0f5"></div>
<div class="ab" style="left:536.2px;top:469.9px;width:1.6px;height:20.700000000000045px;background:#edf0f5"></div>
<div class="ab" style="left:592.1px;top:469.9px;width:1.6px;height:20.700000000000045px;background:#edf0f5"></div>
<div class="ab" style="left:647.7px;top:469.9px;width:1.6px;height:20.700000000000045px;background:#edf0f5"></div>
<div class="ab" style="left:704.1px;top:469.9px;width:1.6px;height:20.700000000000045px;background:#edf0f5"></div>
<div class="ab" style="left:759.3000000000001px;top:469.9px;width:1.6px;height:20.700000000000045px;background:#edf0f5"></div>
<svg class="ab" style="left:22.200000000000003px;top:468.25px" width="24" height="24" viewBox="0 0 24 24"><circle cx="12" cy="12" r="10.6" fill="none" stroke="#3f9090" stroke-width="1.1"/><path d="M4.6 12 Q12 4.4 19.4 12 Q12 19.6 4.6 12 Z" fill="#1f6f6f"/><circle cx="12" cy="12" r="2.9" fill="#fff"/><circle cx="12" cy="12" r="1.3" fill="#1f6f6f"/></svg>
<div class="ab title" style="left:52.8px;top:464.65px;height:16px;line-height:16px;color:#238a8a">4182.2 шуко витраж…</div>
<div class="ab sbadge" style="left:52.8px;top:485.15px">22.07.2024</div>
<div class="ab c dbadge" style="left:199.4px;top:473.05px">19.08.2024</div>
<div class="ab c btn" style="left:281.2px;top:458.4px;width:83.8px">Комментарий</div>
<div class="ab c btn" style="left:298.7px;top:480.6px;width:49.1px">Файлы</div>
<div class="ab c num" style="left:539px;top:471.25px;width:50px;height:18px">0</div>
<div class="ab c num" style="left:595px;top:471.25px;width:50px;height:18px">0</div>
<div class="ab c num" style="left:651px;top:471.25px;width:50px;height:18px">0</div>
<div class="ab c num" style="left:707.5px;top:471.25px;width:50px;height:18px">0.07</div>
<div class="ab l lab" style="left:764px;top:470.4px;background:#f5dc5b">Стекло</div>
<div class="ab" style="left:863.8px;top:140px;width:714.8px;height:466px;overflow:hidden">
<div class="ab l bar" style="left:-13.8px;top:329.7px;width:558.4000000000001px;background:#f5dc5b;padding-left:16.400000000000002px;border-radius:0 3px 3px 0;">Стекло</div>
</div>
<div class="ab" style="left:187.7px;top:506.6000000000001px;width:1.6px;height:20.600000000000023px;background:#edf0f5"></div>
<div class="ab" style="left:275.7px;top:506.6000000000001px;width:1.6px;height:20.600000000000023px;background:#edf0f5"></div>
<div class="ab" style="left:368.7px;top:506.6000000000001px;width:1.6px;height:20.600000000000023px;background:#edf0f5"></div>
<div class="ab" style="left:452.4px;top:506.6000000000001px;width:1.6px;height:20.600000000000023px;background:#edf0f5"></div>
<div class="ab" style="left:536.2px;top:506.6000000000001px;width:1.6px;height:20.600000000000023px;background:#edf0f5"></div>
<div class="ab" style="left:592.1px;top:506.6000000000001px;width:1.6px;height:20.600000000000023px;background:#edf0f5"></div>
<div class="ab" style="left:647.7px;top:506.6000000000001px;width:1.6px;height:20.600000000000023px;background:#edf0f5"></div>
<div class="ab" style="left:704.1px;top:506.6000000000001px;width:1.6px;height:20.600000000000023px;background:#edf0f5"></div>
<div class="ab" style="left:759.3000000000001px;top:506.6000000000001px;width:1.6px;height:20.600000000000023px;background:#edf0f5"></div>
<svg class="ab" style="left:22.200000000000003px;top:504.9000000000001px" width="24" height="24" viewBox="0 0 24 24"><circle cx="12" cy="12" r="10.6" fill="none" stroke="#3f9090" stroke-width="1.1"/><path d="M4.6 12 Q12 4.4 19.4 12 Q12 19.6 4.6 12 Z" fill="#1f6f6f"/><circle cx="12" cy="12" r="2.9" fill="#fff"/><circle cx="12" cy="12" r="1.3" fill="#1f6f6f"/></svg>
<div class="ab title" style="left:52.8px;top:501.30000000000007px;height:16px;line-height:16px;color:#238a8a">24-227</div>
<div class="ab sbadge" style="left:52.8px;top:521.8000000000001px">16.08.2024</div>
<div class="ab c dbadge" style="left:199.4px;top:509.7000000000001px">21.10.2024</div>
<div class="ab c btn" style="left:281.2px;top:495.05000000000007px;width:83.8px">Комментарий</div>
<div class="ab c btn" style="left:298.7px;top:517.2500000000001px;width:49.1px">Файлы</div>
<div class="ab c num" style="left:539px;top:507.9000000000001px;width:50px;height:18px">0</div>
<div class="ab c num" style="left:595px;top:507.9000000000001px;width:50px;height:18px">0</div>
<div class="ab c num" style="left:651px;top:507.9000000000001px;width:50px;height:18px">0</div>
<div class="ab c num" style="left:707.5px;top:507.9000000000001px;width:50px;height:18px">1.36</div>
<div class="ab l lab" style="left:764px;top:507.1px;background:#f5dc5b">Стекло</div>
<div class="ab" style="left:863.8px;top:140px;width:714.8px;height:466px;overflow:hidden">
<div class="ab l bar" style="left:507.2px;top:366.40000000000003px;width:249.00000000000006px;background:#f5dc5b;">Стекло</div>
</div>
<div class="ab" style="left:187.7px;top:543.2px;width:1.6px;height:57.599999999999994px;background:#edf0f5"></div>
<div class="ab" style="left:275.7px;top:543.2px;width:1.6px;height:57.599999999999994px;background:#edf0f5"></div>
<div class="ab" style="left:368.7px;top:543.2px;width:1.6px;height:57.599999999999994px;background:#edf0f5"></div>
<div class="ab" style="left:452.4px;top:543.2px;width:1.6px;height:57.599999999999994px;background:#edf0f5"></div>
<div class="ab" style="left:536.2px;top:543.2px;width:1.6px;height:57.599999999999994px;background:#edf0f5"></div>
<div class="ab" style="left:592.1px;top:543.2px;width:1.6px;height:57.599999999999994px;background:#edf0f5"></div>
<div class="ab" style="left:647.7px;top:543.2px;width:1.6px;height:57.599999999999994px;background:#edf0f5"></div>
<div class="ab" style="left:704.1px;top:543.2px;width:1.6px;height:57.599999999999994px;background:#edf0f5"></div>
<div class="ab" style="left:759.3000000000001px;top:543.2px;width:1.6px;height:57.599999999999994px;background:#edf0f5"></div>
<div class="ab" style="left:0;top:506.20000000000005px;width:1608px;height:99.79999999999995px;overflow:hidden">
<svg class="ab" style="left:22.200000000000003px;top:53.8px" width="24" height="24" viewBox="0 0 24 24"><circle cx="12" cy="12" r="10.6" fill="none" stroke="#3f9090" stroke-width="1.1"/><path d="M4.6 12 Q12 4.4 19.4 12 Q12 19.6 4.6 12 Z" fill="#1f6f6f"/><circle cx="12" cy="12" r="2.9" fill="#fff"/><circle cx="12" cy="12" r="1.3" fill="#1f6f6f"/></svg>
<div class="ab title" style="left:52.8px;top:42.199999999999996px;height:16px;line-height:16px;color:#238a8a">9786.3</div>
<div class="ab title" style="left:52.8px;top:58.199999999999996px;height:16px;line-height:16px;color:#238a8a">Предварительный…</div>
<div class="ab sbadge" style="left:52.8px;top:78.69999999999999px">16.08.2024</div>
<div class="ab c dbadge" style="left:199.4px;top:58.599999999999994px">30.08.2024</div>
<div class="ab c btn" style="left:281.2px;top:42.3px;width:83.8px">Комментарий</div>
<div class="ab c btn" style="left:298.7px;top:67.8px;width:49.1px">Файлы</div>
<div class="ab c num" style="left:539px;top:56.8px;width:50px;height:18px">0</div>
<div class="ab c num" style="left:595px;top:56.8px;width:50px;height:18px">1</div>
<div class="ab c num" style="left:651px;top:56.8px;width:50px;height:18px">0</div>
<div class="ab c num" style="left:707.5px;top:56.8px;width:50px;height:18px">5.22</div>
<div class="ab l lab" style="left:764px;top:37.5px;background:#f5dc5b">Стекло</div>
<div class="ab l lab" style="left:764px;top:74.17px;background:#f5dc5b">Конструкции</div>
</div>
<div class="ab" style="left:863.8px;top:140px;width:714.8px;height:466px;overflow:hidden">
<div class="ab l bar" style="left:507.2px;top:403.00000000000006px;width:249.00000000000006px;background:#f5dc5b;">Стекло</div>
<div class="ab l bar" style="left:507.2px;top:439.6700000000001px;width:249.00000000000006px;background:#f5dc5b;">Конструкции</div>
</div>
<div class="ab" style="left:1579.5px;top:148px;width:13.5px;height:458px;border-radius:7px;background:#f4f4f8;box-shadow:inset 0 0 1px rgba(0,0,0,0.12)"></div>
<div class="ab" style="left:1579.5px;top:148px;width:13.5px;height:278px;border-radius:7px;background:#2e918b"></div>
<div class="ab " style="left:537.0px;top:607px;width:1px;height:21px;background:#e6eaf1"></div>
<div class="ab " style="left:592.9px;top:607px;width:1px;height:21px;background:#e6eaf1"></div>
<div class="ab " style="left:648.5px;top:607px;width:1px;height:21px;background:#e6eaf1"></div>
<div class="ab " style="left:704.9px;top:607px;width:1px;height:21px;background:#e6eaf1"></div>
<div class="ab " style="left:760.1px;top:607px;width:1px;height:21px;background:#e6eaf1"></div>
<div class="ab l" style="left:325px;top:609px;height:18px;font-size:13px;color:#1c1c1c"><b>Итого</b>&nbsp;&nbsp;(19 августа - 25 августа)</div>
<div class="ab c num" style="left:539px;top:609px;width:50px;height:18px">2.06</div>
<div class="ab c num" style="left:595px;top:609px;width:50px;height:18px">0</div>
<div class="ab c num" style="left:651px;top:609px;width:50px;height:18px">27.49</div>
<div class="ab c num" style="left:707.5px;top:609px;width:50px;height:18px">41.89</div>
<div class="ab l" style="left:16px;top:653px;height:18px;font-size:13px;color:#1c1c1c">Элементов на странице</div>
<div class="ab l sel" style="left:167px;top:648px;width:72.5px;height:28.5px;padding-left:11px;border-radius:2px">20</div>
<svg class="ab" style="left:216px;top:658px" width="10" height="8" viewBox="0 0 10 8"><path d="M1 2 L5 6 L9 2" fill="none" stroke="#1e2533" stroke-width="1.7"/></svg>
<div class="ab l" style="left:259px;top:653px;height:18px;font-size:13px;color:#1c1c1c">1-12 из 12</div>
<div class="ab c pg" style="left:339px;top:648px;height:28.3px"><svg width="10" height="10" viewBox="0 0 10 10"><path d="M5.5 1.5 L2 5 L5.5 8.5 M9 1.5 L5.5 5 L9 8.5" fill="none" stroke="#6b7280" stroke-width="1.3"/></svg></div>
<div class="ab c pg" style="left:375.6px;top:648px;height:28.3px"><svg width="10" height="10" viewBox="0 0 10 10"><path d="M7 0.5 L2.7 5 L7 9.5" fill="none" stroke="#6b7280" stroke-width="1.6"/></svg></div>
<div class="ab c pg" style="left:412.4px;top:648px;height:28.3px"><svg width="10" height="10" viewBox="0 0 10 10"><path d="M3 0.5 L7.3 5 L3 9.5" fill="none" stroke="#6b7280" stroke-width="1.6"/></svg></div>
<div class="ab c pg" style="left:449.2px;top:648px;height:28.3px"><svg width="10" height="10" viewBox="0 0 10 10"><path d="M1 1.5 L4.5 5 L1 8.5 M4.5 1.5 L8 5 L4.5 8.5" fill="none" stroke="#6b7280" stroke-width="1.3"/></svg></div>
<div class="ab c lg" style="left:507.4px;top:651.5px;width:177.60000000000002px;background:#f5a94f">Предварительный запуск</div>
<div class="ab c lg" style="left:692.4px;top:651.5px;width:135.20000000000005px;background:#ea62a5">Закупка материала</div>
<div class="ab c lg" style="left:836px;top:651.5px;width:105px;background:#0cc4e9">Производство</div>
<div class="ab c lg" style="left:949px;top:651.5px;width:73px;background:#3a9c62">Упаковка</div>
<div class="ab c lg" style="left:1030px;top:651.5px;width:124.79999999999995px;background:#e5363b">Отгрузка клиенту</div>
</body></html>
